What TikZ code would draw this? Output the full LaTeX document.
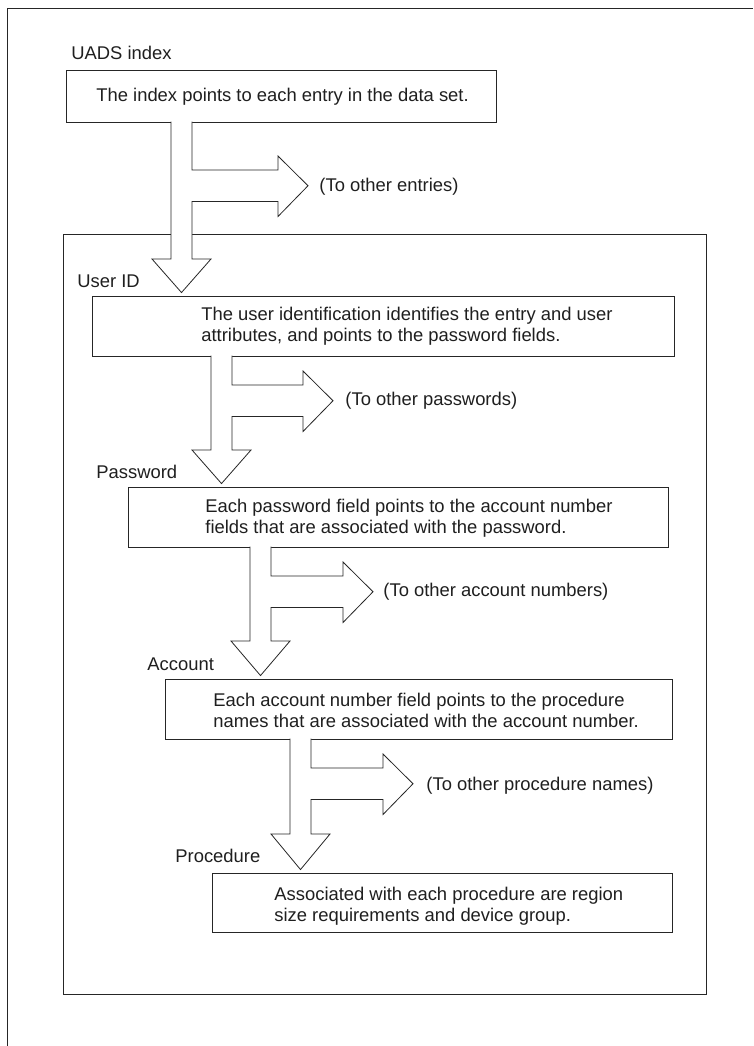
\documentclass[tikz,border=0pt]{standalone}
\usepackage{fontspec}
\setmainfont{Liberation Sans}
\usetikzlibrary{calc}
\begin{document}
\begin{tikzpicture}[x=1pt,y=-1pt,
  line width=0.8pt,
  every node/.style={font=\fontsize{18.4}{21.5}\selectfont, text=black!88},
  box/.style={draw=black!85, fill=white, inner sep=0pt, line width=0.9pt},
  txt/.style={anchor=base west, inner sep=0pt},
  blockarrow/.style={draw=black!85, fill=white, line width=0.8pt, line join=miter}]
\useasboundingbox (0,0) rectangle (753,1046);

% page edge
\draw[black!85, line width=0.9pt] (7,1046) -- (7,8) -- (753,8);

% entry frame
\node[box, minimum width=643pt, minimum height=760pt] (frame) at (384.5,614) {};

% record boxes
\node[box, minimum width=430pt, minimum height=52pt] (b1) at (281,96) {};
\node[box, minimum width=582pt, minimum height=60pt] (b2) at (383,326) {};
\node[box, minimum width=540pt, minimum height=60pt] (b3) at (398,517) {};
\node[box, minimum width=507pt, minimum height=60pt] (b4) at (418.5,709) {};
\node[box, minimum width=460pt, minimum height=59pt] (b5) at (442,902.5) {};

% block arrow: down to the next box, with a branch to the right
% #1 source, #2 target, #3 stem left x, #4 head top y, #5 branch top y, #6 branch head base x
\newcommand{\flowarrow}[6]{%
  \draw[blockarrow]
    ($(#3,0 |- #1.south)+(0,-0.8)$) -- (#3,#4) -- (#3-19,#4)
    -- ($(#3+10.5,0 |- #2.north)+(0,-3)$)
    -- (#3+40,#4) -- (#3+21,#4) -- (#3+21,#5+31.5) -- (#6,#5+31.5)
    -- (#6,#5+46.5) -- (#6+30,#5+15.75) -- (#6,#5-14) -- (#6,#5)
    -- (#3+21,#5) -- ($(#3+21,0 |- #1.south)+(0,-0.8)$);
}
\flowarrow{b1}{b2}{171}{259}{170}{278}
\flowarrow{b2}{b3}{211}{450}{385}{303}
\flowarrow{b3}{b4}{250}{641}{576}{343}
\flowarrow{b4}{b5}{290}{834}{768}{383}

% labels
\node[txt] (l1) at (71,60) {UADS index};
\node[txt] (l2) at (77,287) {User ID};
\node[txt] (l3) at (96,478) {Password};
\node[txt] (l4) at (147,670) {Account};
\node[txt] (l5) at (175,862) {Procedure};

\node[txt] (o1) at (319,191) {(To other entries)};
\node[txt] (o2) at (345,405) {(To other passwords)};
\node[txt] (o3) at (383,596) {(To other account numbers)};
\node[txt] (o4) at (426,790) {(To other procedure names)};

% box texts
\node[txt] (t1) at (96,101.5) {The index points to each entry in the data set.};
\node[txt] (t2a) at (201,320) {The user identification identifies the entry and user};
\node[txt] (t2b) at (201,341.5) {attributes, and points to the password fields.};
\node[txt] (t3a) at (205,512) {Each password field points to the account number};
\node[txt] (t3b) at (205,533.5) {fields that are associated with the password.};
\node[txt] (t4a) at (213,706) {Each account number field points to the procedure};
\node[txt] (t4b) at (213,727.5) {names that are associated with the account number.};
\node[txt] (t5a) at (274,900) {Associated with each procedure are region};
\node[txt] (t5b) at (274,921.5) {size requirements and device group.};
\end{tikzpicture}
\end{document}
